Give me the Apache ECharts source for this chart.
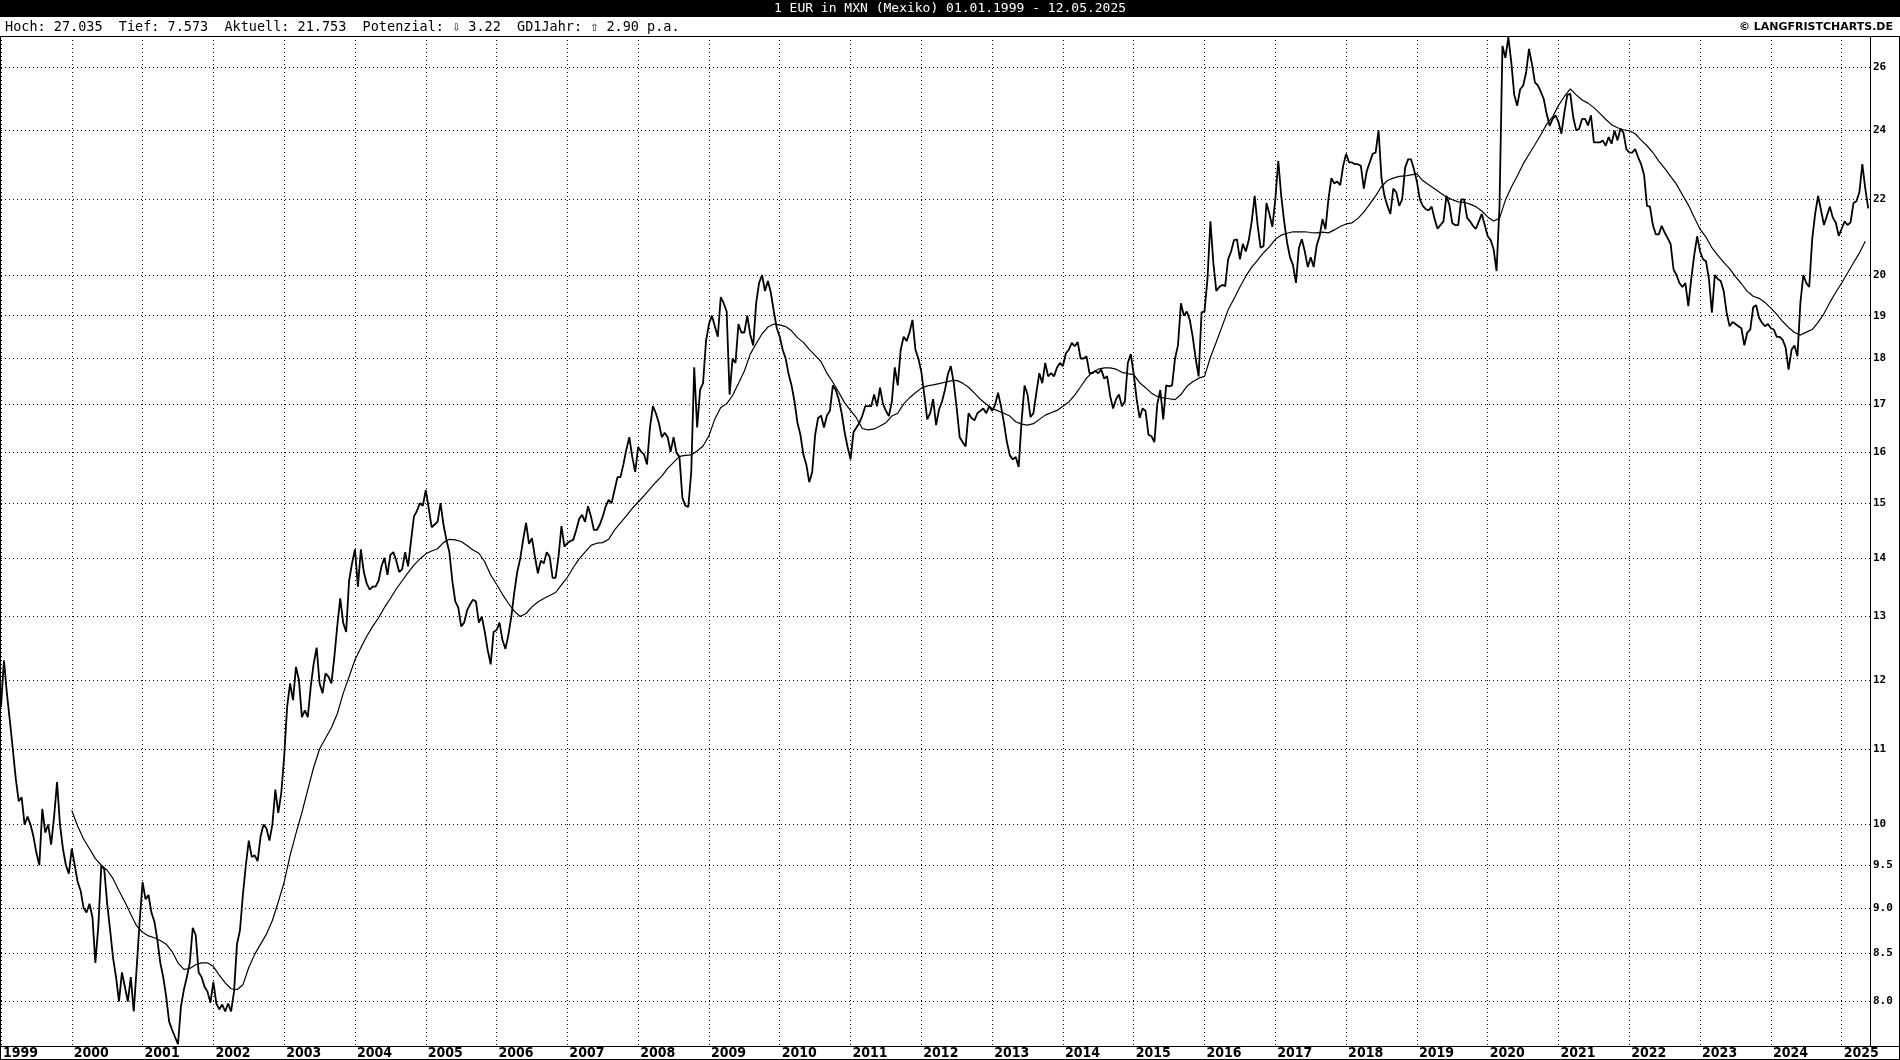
<!DOCTYPE html>
<html><head><meta charset="utf-8">
<script src="https://cdn.jsdelivr.net/npm/echarts@6/dist/echarts.min.js"></script>
<style>html,body{margin:0;padding:0;background:#fff}#c{width:1900px;height:1060px}</style>
</head><body><div id="c"></div>
<script>
// ---- half-monthly closes (24 per year, first value = start of year) ----
const p1999 = [11.6, 12.3, 11.8, 11.4, 11.0, 10.6, 10.3, 10.35, 10.0, 10.1, 10.0, 9.85, 9.65, 9.5, 10.2, 9.9, 10.0, 9.75, 10.1, 10.55, 10.0, 9.7, 9.5, 9.4];
const p2000 = [9.7, 9.5, 9.3, 9.2, 9.0, 8.95, 9.05, 8.9, 8.4, 8.8, 9.5, 9.45, 9.05, 8.75, 8.45, 8.25, 8.0, 8.3, 8.15, 8.0, 8.25, 7.9, 8.35, 8.85];
const p2001 = [9.3, 9.1, 9.15, 8.95, 8.85, 8.65, 8.4, 8.25, 8.05, 7.8, 7.72, 7.65, 7.58, 7.95, 8.12, 8.25, 8.4, 8.78, 8.7, 8.3, 8.25, 8.15, 8.1, 7.99];
const p2002 = [8.2, 7.98, 7.92, 7.97, 7.9, 7.98, 7.9, 8.1, 8.6, 8.75, 9.15, 9.5, 9.8, 9.6, 9.62, 9.55, 9.85, 10.0, 9.95, 9.8, 10.0, 10.45, 10.15, 10.4];
const p2003 = [10.9, 11.6, 11.95, 11.7, 12.2, 12.0, 11.45, 11.55, 11.45, 11.9, 12.25, 12.5, 11.95, 11.8, 12.1, 12.05, 11.95, 12.35, 12.85, 13.3, 12.9, 12.75, 13.6, 13.9];
const p2004 = [14.15, 13.5, 14.15, 13.75, 13.55, 13.45, 13.5, 13.5, 13.6, 13.85, 14.0, 13.7, 14.05, 14.1, 13.95, 13.75, 13.8, 14.1, 13.85, 14.3, 14.75, 14.85, 15.0, 14.95];
const p2005 = [15.25, 14.9, 14.55, 14.6, 14.65, 15.0, 14.6, 14.32, 14.1, 13.6, 13.25, 13.15, 12.84, 12.9, 13.1, 13.2, 13.28, 13.25, 12.9, 13.0, 12.75, 12.46, 12.24, 12.75];
const p2006 = [12.78, 12.9, 12.62, 12.48, 12.7, 13.0, 13.4, 13.75, 13.98, 14.32, 14.63, 14.25, 14.35, 14.02, 13.73, 13.95, 13.9, 14.1, 14.02, 13.65, 13.65, 14.02, 14.57, 14.2];
const p2007 = [14.26, 14.3, 14.32, 14.5, 14.7, 14.78, 14.65, 14.94, 14.75, 14.5, 14.5, 14.6, 14.75, 14.94, 15.06, 15.0, 15.25, 15.5, 15.5, 15.75, 16.05, 16.3, 15.9, 15.6];
const p2008 = [16.1, 16.0, 15.95, 15.75, 16.5, 16.95, 16.8, 16.6, 16.3, 16.39, 16.3, 16.0, 16.3, 15.98, 15.9, 15.1, 14.95, 14.93, 15.6, 17.8, 16.5, 17.3, 17.45, 18.4];
const p2009 = [18.8, 19.0, 18.75, 18.5, 19.45, 19.3, 19.1, 17.2, 18.0, 17.9, 18.8, 18.6, 18.6, 19.0, 18.55, 18.3, 19.3, 19.8, 20.0, 19.6, 19.85, 19.55, 19.1, 18.7];
const p2010 = [18.5, 18.2, 18.0, 17.65, 17.4, 17.05, 16.6, 16.35, 15.95, 15.75, 15.4, 15.6, 16.35, 16.7, 16.75, 16.5, 16.75, 16.85, 17.4, 17.3, 17.1, 16.8, 16.4, 16.1];
const p2011 = [15.85, 16.4, 16.5, 16.6, 16.75, 16.95, 16.95, 16.95, 17.2, 16.95, 17.35, 17.0, 16.85, 16.74, 17.05, 17.8, 17.4, 18.2, 18.5, 18.4, 18.6, 18.9, 18.2, 18.0];
const p2012 = [17.7, 17.2, 16.67, 16.8, 17.1, 16.55, 16.88, 17.05, 17.3, 17.65, 17.83, 17.45, 16.9, 16.3, 16.2, 16.11, 16.8, 16.7, 16.65, 16.8, 16.85, 16.9, 16.8, 16.95];
const p2013 = [16.85, 16.98, 17.24, 16.95, 16.6, 16.2, 15.93, 15.85, 15.9, 15.7, 16.65, 17.4, 17.2, 16.72, 16.8, 17.24, 17.67, 17.45, 17.9, 17.6, 17.67, 17.6, 17.8, 17.9];
const p2014 = [17.83, 18.12, 18.2, 18.36, 18.28, 18.38, 18.0, 18.0, 18.05, 17.67, 17.67, 17.72, 17.67, 17.75, 17.55, 17.6, 17.17, 16.9, 17.1, 17.2, 16.95, 17.05, 17.9, 18.1];
const p2015 = [17.65, 17.1, 16.7, 16.9, 16.85, 16.35, 16.32, 16.2, 17.0, 17.3, 16.67, 17.4, 17.38, 17.4, 18.0, 18.3, 19.3, 19.0, 19.1, 18.9, 18.5, 18.0, 17.6, 19.08];
const p2016 = [19.1, 19.9, 21.4, 20.3, 19.6, 19.7, 19.75, 19.72, 20.4, 20.6, 20.9, 20.92, 20.4, 20.8, 20.6, 20.9, 21.4, 22.1, 21.3, 20.7, 20.74, 21.9, 21.6, 21.25];
const p2017 = [22.0, 23.1, 22.1, 21.4, 20.83, 20.45, 20.25, 19.8, 20.7, 20.92, 20.6, 20.2, 20.45, 20.2, 20.75, 21.0, 21.46, 21.19, 22.0, 22.6, 22.45, 22.5, 22.4, 22.95];
const p2018 = [23.3, 23.05, 23.05, 23.0, 23.0, 22.95, 22.3, 22.8, 23.05, 23.3, 23.34, 24.0, 22.6, 22.1, 21.82, 21.6, 22.3, 22.2, 21.82, 22.0, 22.9, 23.14, 23.14, 22.85];
const p2019 = [22.5, 22.0, 21.82, 21.73, 21.7, 21.8, 21.46, 21.2, 21.3, 21.4, 22.1, 21.85, 21.35, 21.3, 21.3, 22.0, 22.0, 21.5, 21.4, 21.28, 21.2, 21.4, 21.6, 21.3];
const p2020 = [21.0, 20.9, 20.66, 20.1, 21.82, 26.7, 26.3, 27.0, 26.15, 25.1, 24.76, 25.28, 25.39, 25.8, 26.6, 26.1, 25.5, 25.4, 25.2, 24.97, 24.5, 24.14, 24.35, 24.46];
const p2021 = [24.25, 23.9, 24.56, 25.1, 25.13, 24.4, 24.0, 24.05, 24.35, 24.35, 24.15, 24.46, 23.64, 23.64, 23.64, 23.7, 23.54, 23.8, 23.6, 24.0, 23.7, 24.05, 23.94, 23.44];
const p2022 = [23.34, 23.34, 23.44, 23.2, 23.0, 22.7, 21.82, 21.8, 21.3, 21.05, 21.05, 21.28, 21.1, 20.95, 20.8, 20.14, 20.0, 19.8, 19.7, 19.8, 19.23, 19.9, 20.5, 21.0];
const p2023 = [20.6, 20.4, 20.35, 19.9, 19.07, 20.0, 19.9, 19.85, 19.6, 19.07, 18.75, 18.85, 18.8, 18.75, 18.7, 18.3, 18.6, 18.67, 19.2, 19.25, 18.95, 18.83, 18.75, 18.8];
const p2024 = [18.7, 18.67, 18.5, 18.5, 18.43, 18.25, 17.75, 18.2, 18.3, 18.05, 19.31, 20.0, 19.8, 19.7, 20.92, 21.6, 22.1, 21.7, 21.3, 21.55, 21.8, 21.5, 21.37, 21.01];
const p2025 = [21.2, 21.4, 21.3, 21.37, 21.9, 21.95, 22.2, 23.0, 22.3, 21.753];

// ---- 1-year moving average ("GD1Jahr"), monthly from Jan 2000 ----
const ma2000 = [10.18, 9.98, 9.82, 9.7, 9.58, 9.5, 9.44, 9.34, 9.2, 9.07, 8.93, 8.8];
const ma2001 = [8.73, 8.69, 8.67, 8.64, 8.6, 8.52, 8.4, 8.33, 8.34, 8.38, 8.4, 8.4];
const ma2002 = [8.36, 8.27, 8.19, 8.13, 8.12, 8.17, 8.35, 8.49, 8.6, 8.71, 8.86, 9.07];
const ma2003 = [9.3, 9.62, 9.89, 10.15, 10.45, 10.75, 11.0, 11.15, 11.3, 11.5, 11.8, 12.05];
const ma2004 = [12.31, 12.5, 12.68, 12.84, 12.98, 13.15, 13.3, 13.46, 13.6, 13.74, 13.87, 13.98];
const ma2005 = [14.07, 14.12, 14.16, 14.27, 14.33, 14.32, 14.29, 14.22, 14.14, 14.08, 13.93, 13.7];
const ma2006 = [13.54, 13.37, 13.22, 13.09, 13.0, 13.05, 13.16, 13.24, 13.3, 13.35, 13.4, 13.53];
const ma2007 = [13.66, 13.83, 13.98, 14.1, 14.22, 14.26, 14.27, 14.33, 14.5, 14.63, 14.76, 14.9];
const ma2008 = [15.02, 15.14, 15.27, 15.4, 15.52, 15.67, 15.79, 15.91, 15.93, 15.94, 16.02, 16.12];
const ma2009 = [16.33, 16.68, 16.92, 17.0, 17.18, 17.44, 17.72, 18.1, 18.34, 18.57, 18.73, 18.8];
const ma2010 = [18.78, 18.74, 18.64, 18.48, 18.37, 18.21, 18.07, 17.93, 17.67, 17.47, 17.25, 17.02];
const ma2011 = [16.86, 16.7, 16.48, 16.45, 16.47, 16.53, 16.6, 16.74, 16.8, 17.0, 17.13, 17.24];
const ma2012 = [17.34, 17.39, 17.41, 17.44, 17.47, 17.5, 17.51, 17.45, 17.36, 17.23, 17.1, 16.99];
const ma2013 = [16.9, 16.85, 16.8, 16.74, 16.62, 16.57, 16.55, 16.58, 16.67, 16.76, 16.81, 16.86];
const ma2014 = [16.95, 17.04, 17.19, 17.37, 17.56, 17.69, 17.76, 17.79, 17.79, 17.76, 17.69, 17.66];
const ma2015 = [17.64, 17.46, 17.35, 17.23, 17.16, 17.13, 17.11, 17.09, 17.2, 17.38, 17.48, 17.56];
const ma2016 = [17.6, 18.03, 18.38, 18.75, 19.14, 19.41, 19.7, 19.97, 20.2, 20.38, 20.57, 20.72];
const ma2017 = [20.92, 21.03, 21.08, 21.12, 21.12, 21.12, 21.1, 21.09, 21.11, 21.09, 21.17, 21.26];
const ma2018 = [21.33, 21.36, 21.48, 21.65, 21.87, 22.1, 22.36, 22.53, 22.6, 22.65, 22.66, 22.69];
const ma2019 = [22.72, 22.53, 22.41, 22.3, 22.18, 22.07, 21.99, 21.93, 21.92, 21.87, 21.8, 21.68];
const ma2020 = [21.52, 21.41, 21.48, 21.98, 22.34, 22.66, 23.0, 23.29, 23.57, 23.87, 24.19, 24.41];
const ma2021 = [24.77, 25.05, 25.29, 25.1, 24.94, 24.84, 24.7, 24.52, 24.34, 24.17, 24.08, 24.02];
const ma2022 = [23.99, 23.9, 23.71, 23.54, 23.34, 23.09, 22.88, 22.65, 22.42, 22.13, 21.85, 21.51];
const ma2023 = [21.19, 20.98, 20.7, 20.5, 20.32, 20.16, 19.96, 19.78, 19.59, 19.47, 19.42, 19.32];
const ma2024 = [19.18, 19.03, 18.86, 18.72, 18.6, 18.54, 18.61, 18.67, 18.84, 19.05, 19.32, 19.57];
const ma2025 = [19.8, 20.05, 20.31, 20.56, 20.87];

// ---- axis ticks and texts ----
const yTickValues = [8.0, 8.5, 9.0, 9.5, 10, 11, 12, 13, 14, 15, 16, 17, 18, 19, 20, 22, 24, 26];
const yTickLabels = ['8.0', '8.5', '9.0', '9.5', '10', '11', '12', '13', '14', '15', '16', '17', '18', '19', '20', '22', '24', '26'];
const xFirstYear = 1999;
const xEnd = 2025.4;
const yLow = 7.573, yHigh = 27.035;
const titleText = '1 EUR in MXN (Mexiko) 01.01.1999 - 12.05.2025';
const infoText = 'Hoch: 27.035  Tief: 7.573  Aktuell: 21.753  Potenzial: \u21E9 3.22  GD1Jahr: \u21E7 2.90 p.a.';
const copyrightText = '\u00A9 LANGFRISTCHARTS.DE';

const priceYears = [p1999, p2000, p2001, p2002, p2003, p2004, p2005, p2006, p2007, p2008, p2009, p2010, p2011, p2012, p2013, p2014, p2015, p2016, p2017, p2018, p2019, p2020, p2021, p2022, p2023, p2024, p2025];
const maYears = [ma2000, ma2001, ma2002, ma2003, ma2004, ma2005, ma2006, ma2007, ma2008, ma2009, ma2010, ma2011, ma2012, ma2013, ma2014, ma2015, ma2016, ma2017, ma2018, ma2019, ma2020, ma2021, ma2022, ma2023, ma2024, ma2025];

const priceData = [];
priceYears.forEach((arr, yi) => arr.forEach((v, k) => priceData.push([xFirstYear + yi + k / 24, v])));
const maData = [];
maYears.forEach((arr, yi) => arr.forEach((v, m) => maData.push([xFirstYear + 1 + yi + m / 12, v])));

const chart = echarts.init(document.getElementById('c'), null, { renderer: 'canvas' });
const dotted = [1, 3];
const ln = (x1, y1, x2, y2) => ({ type: 'line', silent: true, z: 50, shape: { x1, y1, x2, y2 }, style: { stroke: '#000', lineWidth: 1 } });

chart.setOption({
  animation: false,
  backgroundColor: '#fff',
  grid: { left: 1, right: 30, top: 36, bottom: 14 },
  xAxis: {
    type: 'value', min: xFirstYear, max: xEnd, interval: 1,
    axisLine: { show: false },
    axisTick: { show: false },
    splitLine: { show: true, lineStyle: { color: '#000', type: dotted, width: 1 } },
    axisLabel: {
      show: true, align: 'left', verticalAlign: 'top', margin: 1, padding: [0, 0, 0, 2],
      fontFamily: 'DejaVu Sans Condensed', fontWeight: 'bold', fontSize: 14, color: '#000',
      formatter: v => Math.abs(v - Math.round(v)) < 1e-6 ? String(Math.round(v)) : ''
    }
  },
  yAxis: {
    type: 'log', logBase: 10, min: yLow, max: yHigh, position: 'right',
    axisLine: { show: false }, axisTick: { show: false }, axisLabel: { show: false }, splitLine: { show: false }
  },
  series: [
    {
      type: 'line', data: priceData, showSymbol: false, symbol: 'none', silent: true, z: 3,
      lineStyle: { color: '#000', width: 1.8 }
    },
    {
      type: 'line', data: maData, showSymbol: false, symbol: 'none', silent: true, z: 4,
      lineStyle: { color: '#000', width: 1.2 },
      markLine: {
        silent: true, symbol: 'none', animation: false,
        lineStyle: { color: '#000', type: dotted, width: 1 },
        emphasis: { disabled: true },
        label: {
          show: true, position: 'end', distance: 3, formatter: p => p.name,
          fontFamily: 'DejaVu Sans Mono', fontWeight: 'bold', fontSize: 11, color: '#000'
        },
        data: yTickValues.map((v, i) => ({ yAxis: v, name: yTickLabels[i] }))
      }
    }
  ],
  graphic: [
    { type: 'rect', silent: true, z: 40, shape: { x: 0, y: 0, width: 1900, height: 17 }, style: { fill: '#000' } },
    { type: 'text', silent: true, z: 41, style: { text: titleText, x: 950, y: 9, fill: '#fff', font: '13px "DejaVu Sans Mono"', align: 'center', verticalAlign: 'middle', textAlign: 'center', textVerticalAlign: 'middle' } },
    { type: 'text', silent: true, z: 41, style: { text: infoText, x: 5, y: 27, fill: '#000', font: '13.5px "DejaVu Sans Mono"', align: 'left', verticalAlign: 'middle', textAlign: 'left', textVerticalAlign: 'middle' } },
    { type: 'text', silent: true, z: 41, style: { text: copyrightText, x: 1893, y: 27, fill: '#000', font: 'bold 11px "DejaVu Sans"', align: 'right', verticalAlign: 'middle', textAlign: 'right', textVerticalAlign: 'middle' } },
    ln(0, 36.5, 1900, 36.5),
    ln(0, 1046.5, 1900, 1046.5),
    ln(0, 1059.5, 1900, 1059.5),
    ln(0.5, 36, 0.5, 1060),
    ln(1899.5, 36, 1899.5, 1060),
    ln(1870.5, 36, 1870.5, 1046)
  ]
});
</script>
</body></html>
